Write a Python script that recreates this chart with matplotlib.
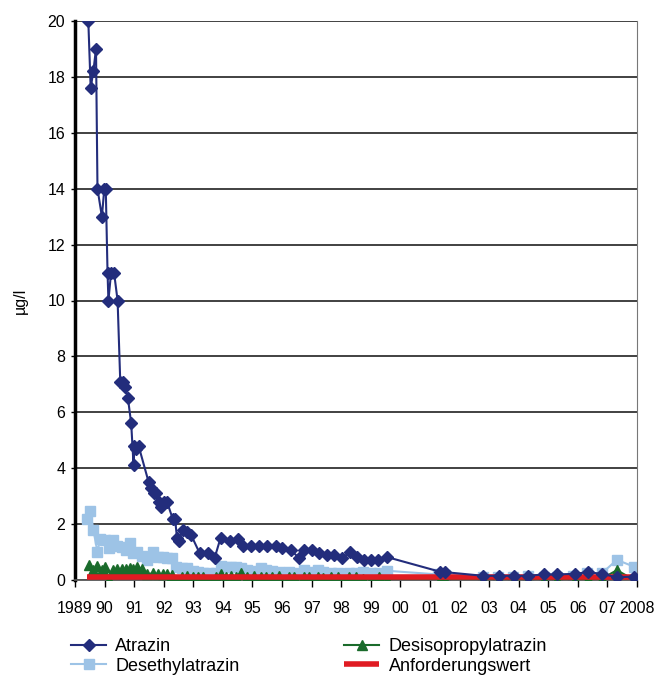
import matplotlib
matplotlib.use('Agg')
import matplotlib.pyplot as plt

plt.rcParams.update({
    'font.family': ['Liberation Sans', 'DejaVu Sans'],
    'font.size': 13,
})

# Atrazin
atr_t = [1989.45, 1989.53, 1989.62, 1989.71, 1989.76, 1989.91, 1989.99, 1990.04,
         1990.10, 1990.13, 1990.22, 1990.32, 1990.44, 1990.53, 1990.62, 1990.70,
         1990.79, 1990.90, 1990.98, 1991.01, 1991.07, 1991.15, 1991.49, 1991.56,
         1991.66, 1991.75, 1991.83, 1991.92, 1992.02, 1992.11, 1992.30, 1992.38,
         1992.45, 1992.50, 1992.65, 1992.78, 1992.93, 1993.21, 1993.50, 1993.72,
         1993.92, 1994.23, 1994.52, 1994.68, 1994.94, 1995.21, 1995.50, 1995.79,
         1996.01, 1996.30, 1996.58, 1996.75, 1997.00, 1997.26, 1997.52, 1997.77,
         1998.03, 1998.31, 1998.53, 1998.78, 1999.01, 1999.26, 1999.55,
         2001.33, 2001.52, 2002.80, 2003.34, 2003.84, 2004.33, 2004.84, 2005.29,
         2005.89, 2006.33, 2006.81, 2007.32, 2007.91]
atr_v = [20.0, 17.6, 18.2, 19.0, 14.0, 13.0, 14.0, 14.0,
         11.0, 10.0, 11.0, 11.0, 10.0, 7.1, 7.1, 6.9,
         6.5, 5.6, 4.1, 4.8, 4.7, 4.8, 3.5, 3.3,
         3.1, 3.1, 2.8, 2.6, 2.8, 2.8, 2.2, 2.2,
         1.5, 1.4, 1.8, 1.7, 1.6, 0.97, 0.97, 0.79,
         1.5, 1.4, 1.47, 1.2, 1.2, 1.2, 1.2, 1.22,
         1.14, 1.07, 0.78, 1.07, 1.07, 0.96, 0.9, 0.9,
         0.79, 1.0, 0.83, 0.72, 0.72, 0.72, 0.82,
         0.3, 0.28, 0.15, 0.15, 0.15, 0.15, 0.2, 0.2,
         0.22, 0.28, 0.22, 0.1, 0.12]

# Desethylatrazin
des_t = [1989.42, 1989.51, 1989.62, 1989.76, 1989.85, 1990.02, 1990.16, 1990.30,
         1990.41, 1990.58, 1990.73, 1990.87, 1990.96, 1991.11, 1991.26, 1991.45,
         1991.64, 1991.81, 1991.98, 1992.11, 1992.28, 1992.43, 1992.62, 1992.79,
         1992.98, 1993.15, 1993.33, 1993.52, 1993.75, 1993.92, 1994.09, 1994.26,
         1994.43, 1994.60, 1994.83, 1995.05, 1995.28, 1995.45, 1995.67, 1995.90,
         1996.24, 1996.41, 1996.75, 1996.92, 1997.20, 1997.37, 1997.65, 1997.88,
         1998.10, 1998.27, 1998.50, 1998.74, 1999.01, 1999.28, 1999.55,
         2001.27, 2001.52, 2002.80, 2003.31, 2003.82, 2004.33, 2004.84, 2005.29,
         2005.85, 2006.31, 2006.81, 2007.32, 2007.89]
des_v = [2.2, 2.47, 1.8, 1.0, 1.46, 1.43, 1.13, 1.43,
         1.22, 1.18, 1.07, 1.32, 0.96, 1.0, 0.86, 0.72,
         1.0, 0.83, 0.83, 0.78, 0.78, 0.47, 0.43, 0.43,
         0.33, 0.29, 0.25, 0.25, 0.25, 0.5, 0.47, 0.47,
         0.47, 0.43, 0.36, 0.33, 0.43, 0.36, 0.33, 0.29,
         0.29, 0.25, 0.36, 0.29, 0.36, 0.29, 0.25, 0.25,
         0.18, 0.25, 0.25, 0.3, 0.25, 0.25, 0.33,
         0.2, 0.18, 0.12, 0.12, 0.12, 0.15, 0.12, 0.12,
         0.15, 0.24, 0.24, 0.72, 0.48]

# Desisopropylatrazin
dip_t = [1989.49, 1989.62, 1989.76, 1989.91, 1990.02, 1990.16, 1990.30, 1990.41,
         1990.58, 1990.73, 1990.87, 1990.96, 1991.11, 1991.26, 1991.45, 1991.64,
         1991.81, 1991.98, 1992.11, 1992.28, 1992.43, 1992.62, 1992.79, 1992.98,
         1993.15, 1993.33, 1993.52, 1993.75, 1993.92, 1994.09, 1994.26, 1994.43,
         1994.60, 1994.83, 1995.05, 1995.28, 1995.45, 1995.67, 1995.90, 1996.24,
         1996.41, 1996.75, 1996.92, 1997.20, 1997.37, 1997.65, 1997.88, 1998.10,
         1998.27, 1998.50, 1998.74, 1999.01, 1999.28, 1999.55,
         2001.33, 2001.52, 2002.80, 2003.34, 2003.84, 2004.33, 2004.84, 2005.29,
         2005.89, 2006.33, 2006.81, 2007.32, 2007.91]
dip_v = [0.55, 0.35, 0.5, 0.35, 0.45, 0.0, 0.35, 0.4,
         0.38, 0.4, 0.42, 0.38, 0.45, 0.4, 0.2, 0.25,
         0.2, 0.2, 0.2, 0.18, 0.0, 0.12, 0.15, 0.12,
         0.1, 0.12, 0.0, 0.1, 0.22, 0.12, 0.15, 0.1,
         0.25, 0.1, 0.15, 0.1, 0.12, 0.1, 0.15, 0.1,
         0.12, 0.1, 0.12, 0.1, 0.08, 0.12, 0.1, 0.0,
         0.1, 0.12, 0.05, 0.0, 0.1, 0.0,
         0.0, 0.0, 0.0, 0.0, 0.0, 0.0, 0.0, 0.0,
         0.0, 0.05, 0.05, 0.35, 0.0]

# Anforderungswert
anf_t = [1989.42, 2007.91]
anf_v = [0.1, 0.1]

year_ticks = list(range(1989, 2009))
year_labels = ['1989', '90', '91', '92', '93', '94', '95', '96', '97', '98', '99',
               '00', '01', '02', '03', '04', '05', '06', '07', '2008']

fig = plt.figure(figsize=(6.67, 6.78), dpi=100)
ax = fig.add_axes([75 / 667, 1 - 580 / 678, 562 / 667, 559 / 678])

ax.plot(des_t, des_v, color='#9dc3e6', lw=1.5, marker='s', ms=6.5,
        label='Desethylatrazin', zorder=2)
ax.plot(dip_t, dip_v, color='#1a6b2b', lw=1.5, marker='^', ms=7.5,
        label='Desisopropylatrazin', zorder=3)
ax.plot(anf_t, anf_v, color='#e01b22', lw=4, solid_capstyle='butt',
        label='Anforderungswert', zorder=4)
ax.plot(atr_t, atr_v, color='#232d7c', lw=1.5, marker='D', ms=6.5,
        label='Atrazin', zorder=5)

ax.set_xlim(1989, 2008)
ax.set_ylim(0, 20)
ax.set_yticks(range(0, 21, 2))
ax.set_xticks(year_ticks)
ax.set_xticklabels(year_labels)
ax.yaxis.grid(True, color='#333333', lw=1.3)
ax.set_axisbelow(True)
ax.tick_params(axis='x', direction='out', length=5, width=1, pad=10, labelsize=11.5)
ax.tick_params(axis='y', direction='out', length=3, width=1, pad=4, labelsize=11.5)
ax.spines['top'].set_visible(False)
ax.spines['right'].set_color('#777777')
ax.spines['left'].set_linewidth(2.5)
ax.spines['bottom'].set_color('#555555')
ax.spines['bottom'].set_linewidth(1.3)
ax.set_ylabel('µg/l', labelpad=14, fontsize=11.5)

h, l = ax.get_legend_handles_labels()
order = [3, 0, 1, 2]
fig.legend([h[i] for i in order], [l[i] for i in order], ncol=2,
           loc='upper left', bbox_to_anchor=(62 / 667, 1 - 629 / 678),
           frameon=False, borderpad=0, handlelength=1.95, handletextpad=0.5,
           columnspacing=5.8, labelspacing=0.15)

fig.savefig('out.png', dpi=100)
